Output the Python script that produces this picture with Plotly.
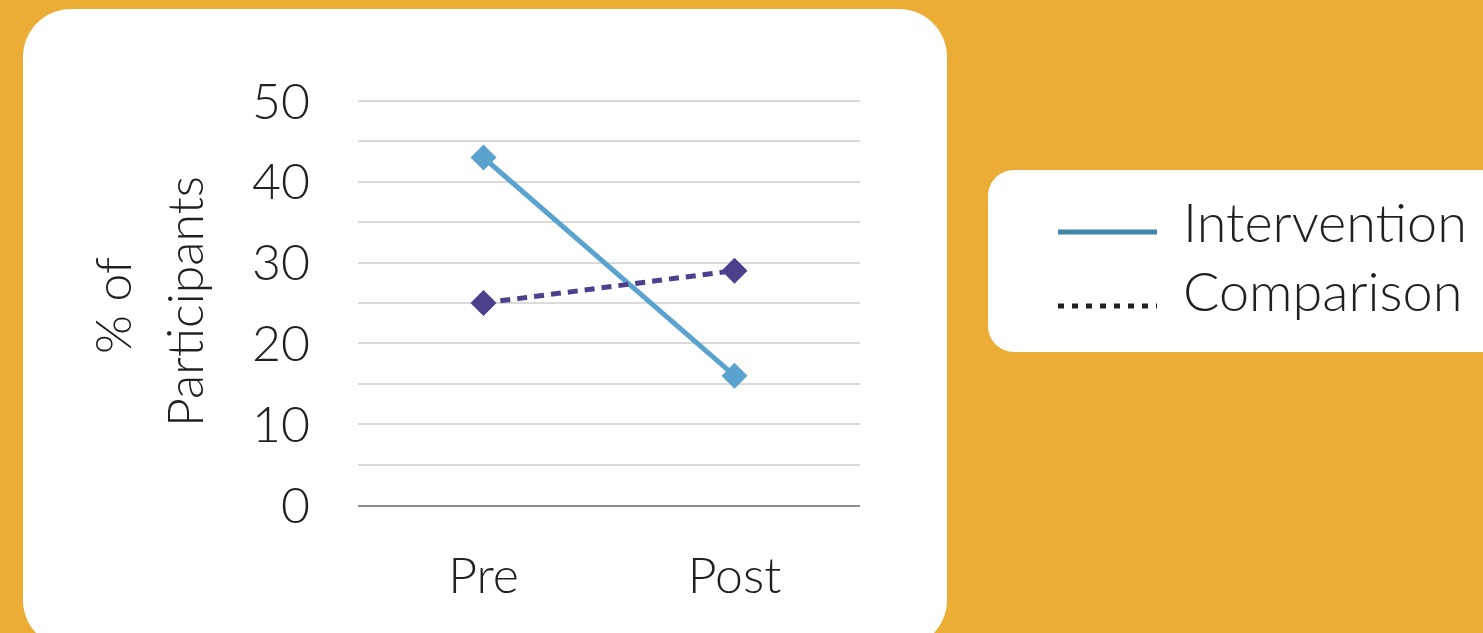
import plotly.graph_objects as go

# ---- data ----
categories = ["Pre", "Post"]
intervention = [43, 16]
comparison = [25, 29]
series_names = ["Intervention", "Comparison"]
y_ticks = [0, 10, 20, 30, 40, 50]
y_title_lines = ["% of", "Participants"]

# ---- layout helpers (pixel -> paper) ----
W, H = 1483, 633
PL, PR, PT, PB = 358, 860, 99, 505


def X(px):
    return (px - PL) / (PR - PL)


def Y(py):
    return (PB - py) / (PB - PT)


def rrect(x0, y0, x1, y1, r):
    k = 0.5523 * r
    pts = [
        f"M {X(x0 + r)},{Y(y0)}",
        f"L {X(x1 - r)},{Y(y0)}",
        f"C {X(x1 - r + k)},{Y(y0)} {X(x1)},{Y(y0 + r - k)} {X(x1)},{Y(y0 + r)}",
        f"L {X(x1)},{Y(y1 - r)}",
        f"C {X(x1)},{Y(y1 - r + k)} {X(x1 - r + k)},{Y(y1)} {X(x1 - r)},{Y(y1)}",
        f"L {X(x0 + r)},{Y(y1)}",
        f"C {X(x0 + r - k)},{Y(y1)} {X(x0)},{Y(y1 - r + k)} {X(x0)},{Y(y1 - r)}",
        f"L {X(x0)},{Y(y0 + r)}",
        f"C {X(x0)},{Y(y0 + r - k)} {X(x0 + r - k)},{Y(y0)} {X(x0 + r)},{Y(y0)}",
        "Z",
    ]
    return " ".join(pts)


FONT = "Lato"
TXT = "#231F20"

fig = go.Figure()
fig.add_trace(go.Scatter(
    x=categories, y=intervention, name=series_names[0], mode="lines+markers",
    line=dict(color="#5BA3CF", width=5),
    marker=dict(symbol="diamond", size=20, color="#5BA3CF"),
    showlegend=False, hoverinfo="skip",
))
fig.add_trace(go.Scatter(
    x=categories, y=comparison, name=series_names[1], mode="lines+markers",
    line=dict(color="#4E3F8C", width=5, dash="10px,7px"),
    marker=dict(symbol="diamond", size=20, color="#4E3F8C"),
    showlegend=False, hoverinfo="skip",
))

shapes = [
    dict(type="path", xref="paper", yref="paper", layer="below",
         path=rrect(23, 9, 947, 648, 48), fillcolor="white", line=dict(width=0)),
    dict(type="path", xref="paper", yref="paper", layer="below",
         path=rrect(988, 170, 1520, 352, 26), fillcolor="white", line=dict(width=0)),
    dict(type="line", xref="paper", yref="paper",
         x0=X(1058), x1=X(1157), y0=Y(232), y1=Y(232),
         line=dict(color="#3F87A8", width=5)),
    dict(type="line", xref="paper", yref="paper",
         x0=X(1058), x1=X(1157), y0=Y(306), y1=Y(306),
         line=dict(color=TXT, width=5, dash="6px,8px")),
]

annotations = [
    dict(text=y_title_lines[0], xref="paper", yref="paper",
         x=X(112), y=Y(306), textangle=-90, showarrow=False,
         font=dict(family=FONT, size=50, color=TXT, weight=300),
         xanchor="center", yanchor="middle"),
    dict(text=y_title_lines[1], xref="paper", yref="paper",
         x=X(184), y=Y(302), textangle=-90, showarrow=False,
         font=dict(family=FONT, size=50, color=TXT, weight=300),
         xanchor="center", yanchor="middle"),
    dict(text=series_names[0], xref="paper", yref="paper",
         x=X(1181), y=Y(221), showarrow=False, xanchor="left", yanchor="middle",
         font=dict(family=FONT, size=54, color=TXT, weight=300)),
    dict(text=series_names[1], xref="paper", yref="paper",
         x=X(1181), y=Y(290), showarrow=False, xanchor="left", yanchor="middle",
         font=dict(family=FONT, size=54, color=TXT, weight=300)),
]

fig.update_layout(
    width=W, height=H,
    margin=dict(l=PL, r=W - PR, t=PT, b=H - PB, pad=0),
    paper_bgcolor="#EBAD35",
    plot_bgcolor="white",
    shapes=shapes,
    annotations=annotations,
    font=dict(family=FONT, color=TXT),
    hovermode=False,
    xaxis=dict(
        type="category", range=[-0.5, 1.5], showgrid=False, zeroline=False,
        showline=True, linecolor="#8C8C8C", linewidth=2,
        ticks="outside", ticklen=26, tickcolor="rgba(0,0,0,0)",
        tickfont=dict(family=FONT, size=50, color=TXT, weight=300),
    ),
    yaxis=dict(
        range=[0, 50.25], tickvals=y_ticks, showgrid=True, gridcolor="#DADADA",
        gridwidth=2, zeroline=False, showline=False,
        minor=dict(dtick=5, showgrid=True, gridcolor="#DADADA", gridwidth=2),
        ticks="outside", ticklen=37, tickcolor="rgba(0,0,0,0)",
        tickfont=dict(family=FONT, size=50, color=TXT, weight=300),
    ),
)

fig.write_html("out.html", config={"displayModeBar": False},
               post_script="document.body.style.margin='0';")
